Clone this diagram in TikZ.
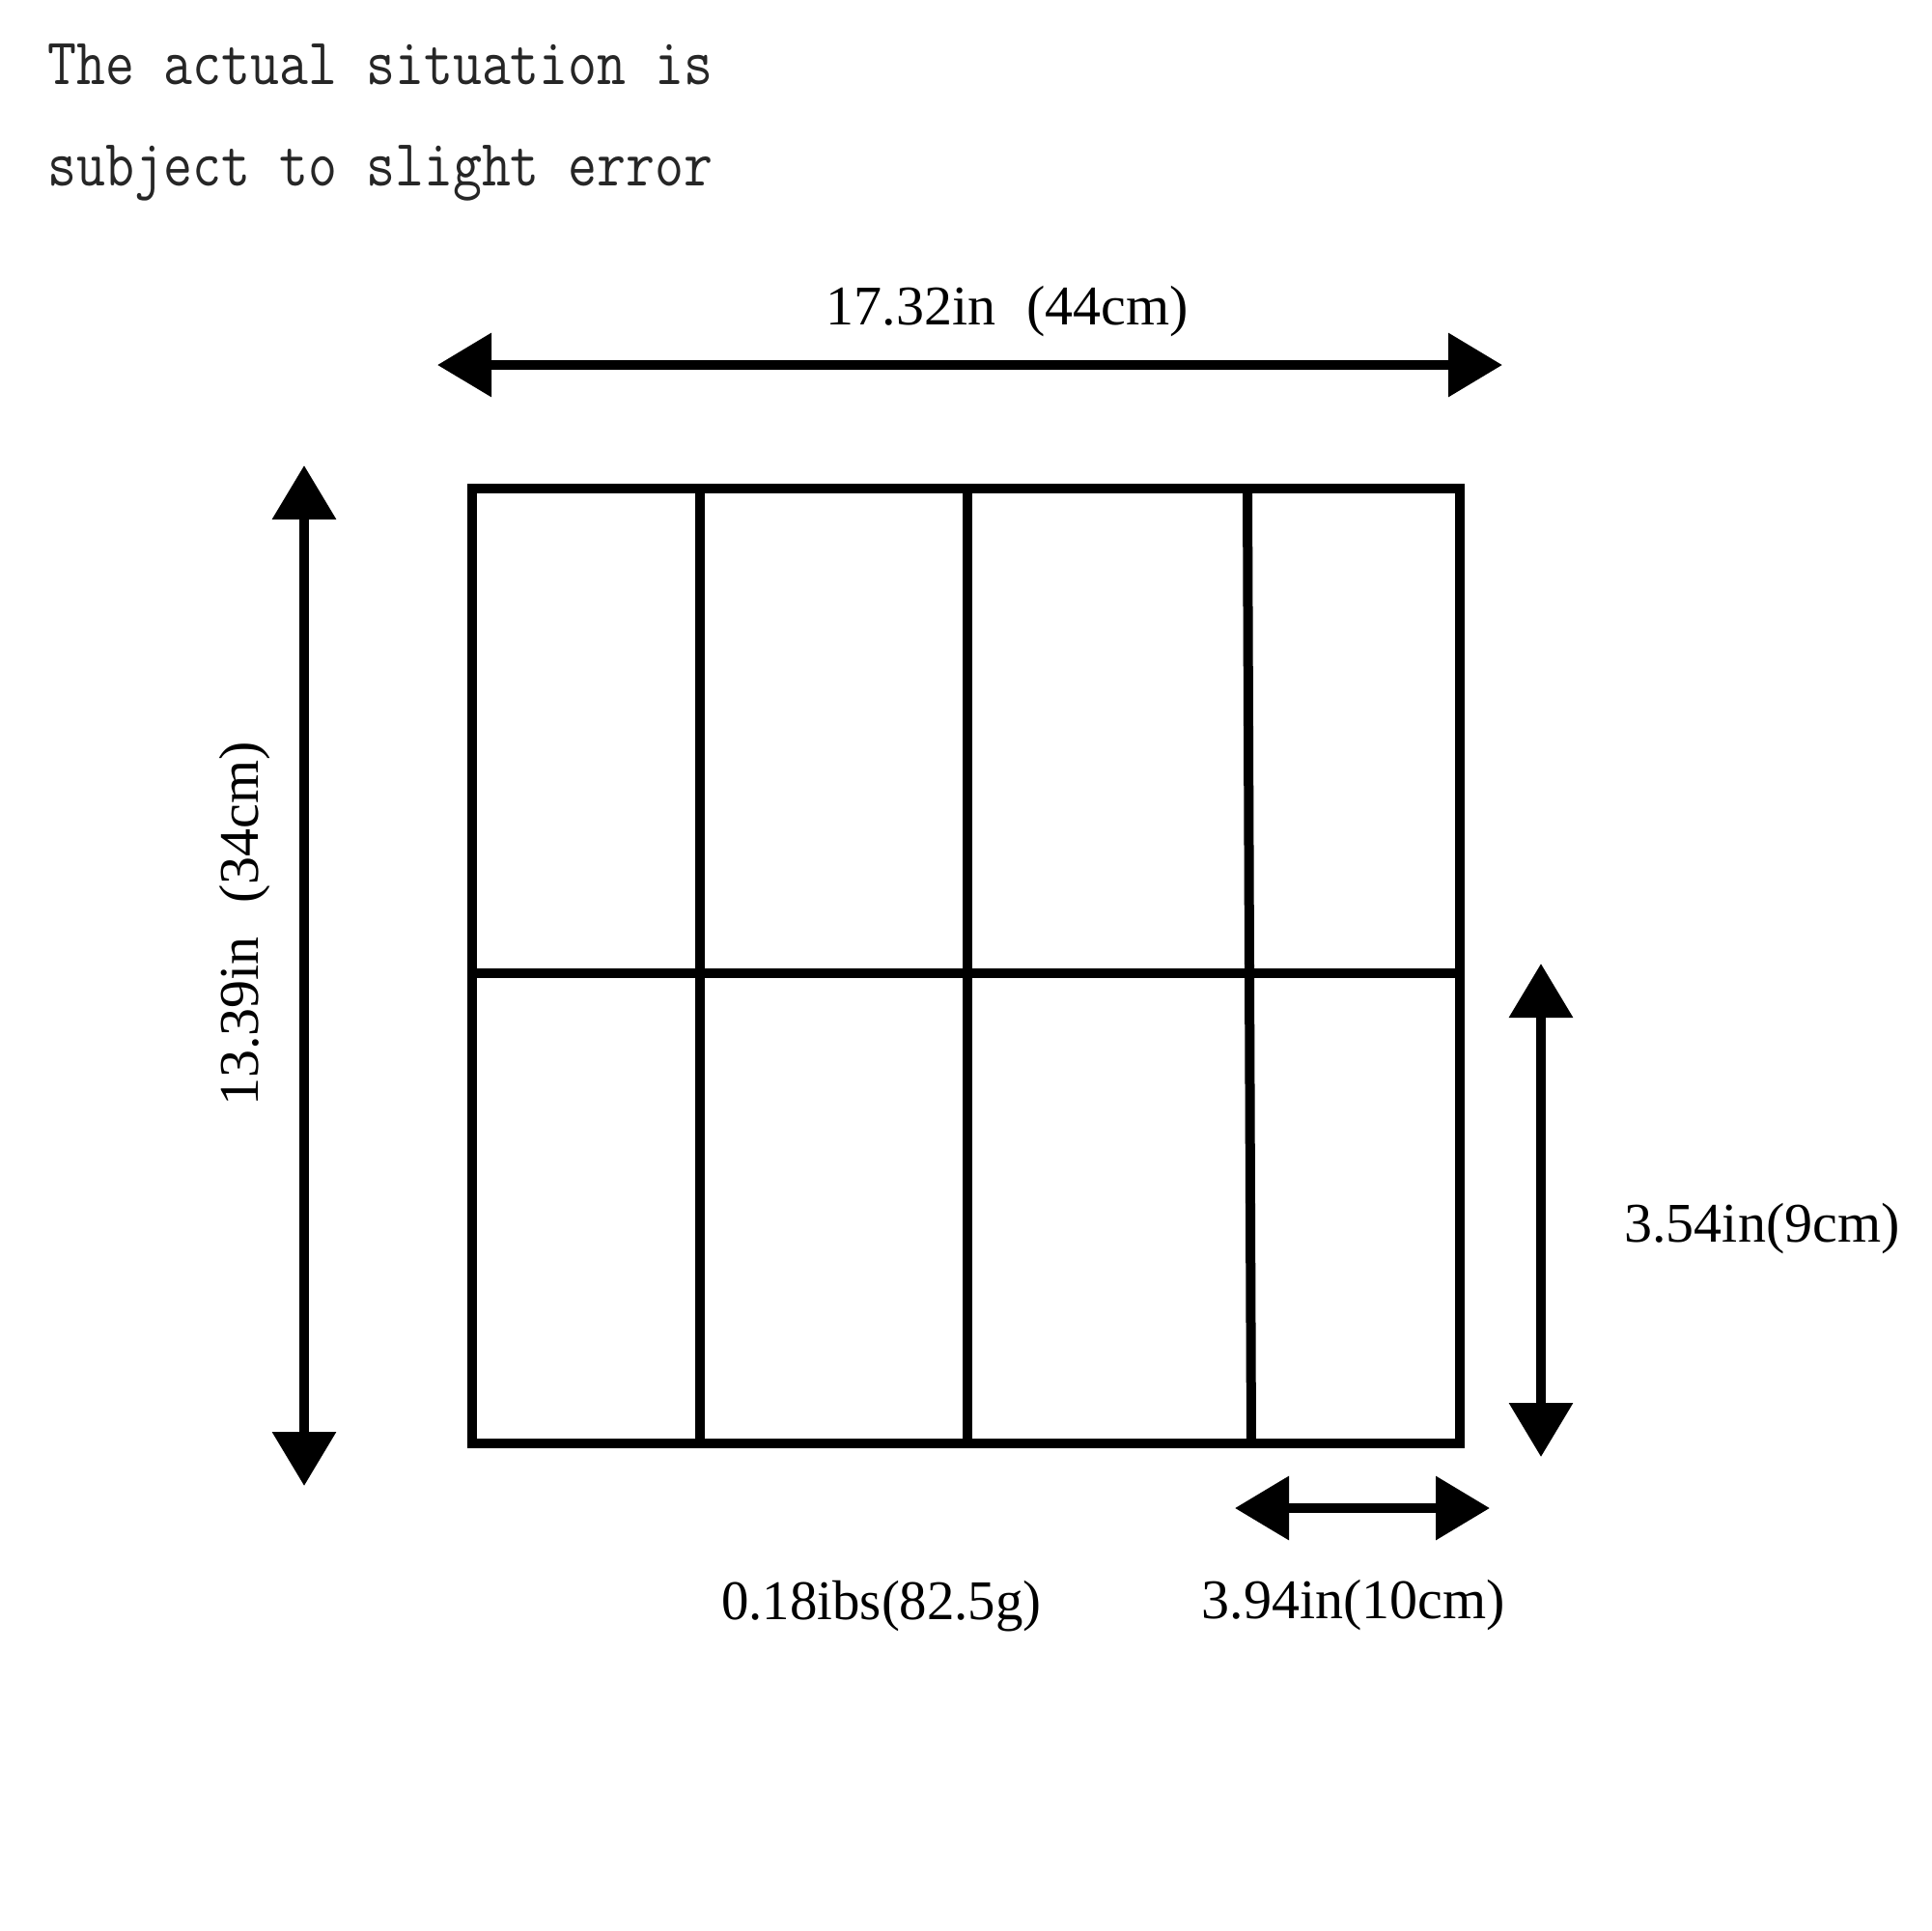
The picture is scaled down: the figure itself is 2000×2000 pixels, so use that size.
\documentclass[tikz,border=0pt]{standalone}
\usepackage{fontspec}
\setmainfont{Liberation Serif}
\usetikzlibrary{arrows.meta}
\tikzset{
  frame/.style={line width=1mm, draw=black},
  dimarrow/.style={line width=1mm, draw=black,
    {Triangle[length=5.6mm,width=6.4mm]}-{Triangle[length=5.6mm,width=6.4mm]}},
  lbl/.style={font=\fontsize{16.5}{19}\selectfont, inner sep=0pt, text=black},
  note/.style={font=\ttfamily\fontsize{16.55}{19}\selectfont, inner sep=0pt, anchor=base west, text=black!85}
}
\begin{document}
\begin{tikzpicture}[x=0.1mm,y=-0.1mm]
\useasboundingbox (0,0) rectangle (2000,2000);
% header
\node[note] (n1) at (49,87) {\scalebox{1}[1.18]{The actual situation is}};
\node[note] (n2) at (49,192) {\scalebox{1}[1.18]{subject to slight error}};
% grid
\coordinate (TL) at (489,506);
\coordinate (BR) at (1512,1495);
\draw[frame] (TL) rectangle (BR);
\coordinate (ML) at (489,1008);
\coordinate (MR) at (1512,1008);
\draw[frame] (ML) -- (MR);
\coordinate (d1t) at (725,506);  \coordinate (d1b) at (725,1495);
\coordinate (d2t) at (1002,506); \coordinate (d2b) at (1002,1495);
\coordinate (d3t) at (1292,506); \coordinate (d3b) at (1296,1495);
\draw[frame] (d1t) -- (d1b);
\draw[frame] (d2t) -- (d2b);
\draw[frame] (d3t) -- (d3b);
% dimension arrows
\coordinate (aw1) at (453,378);  \coordinate (aw2) at (1556,378);
\coordinate (ah1) at (315,482);  \coordinate (ah2) at (315,1539);
\coordinate (ar1) at (1596,998); \coordinate (ar2) at (1596,1509);
\coordinate (ab1) at (1279,1562); \coordinate (ab2) at (1543,1562);
\draw[dimarrow] (aw1) -- (aw2);
\draw[dimarrow] (ah1) -- (ah2);
\draw[dimarrow] (ar1) -- (ar2);
\draw[dimarrow] (ab1) -- (ab2);
% labels
\node[lbl, anchor=base] (w) at (1043,336) {17.32in\hspace{0.55em}(44cm)};
\node[lbl, anchor=base, rotate=90] (h) at (267,957) {13.39in\hspace{0.6em}(34cm)};
\node[lbl, anchor=base] (wt) at (913,1677) {\scalebox{0.98}[1]{0.18ibs(82.5g)}};
\node[lbl, anchor=base] (c) at (1402,1676) {3.94in(10cm)};
\node[lbl, anchor=base] (r) at (1825,1286) {3.54in(9cm)};
\end{tikzpicture}
\end{document}
